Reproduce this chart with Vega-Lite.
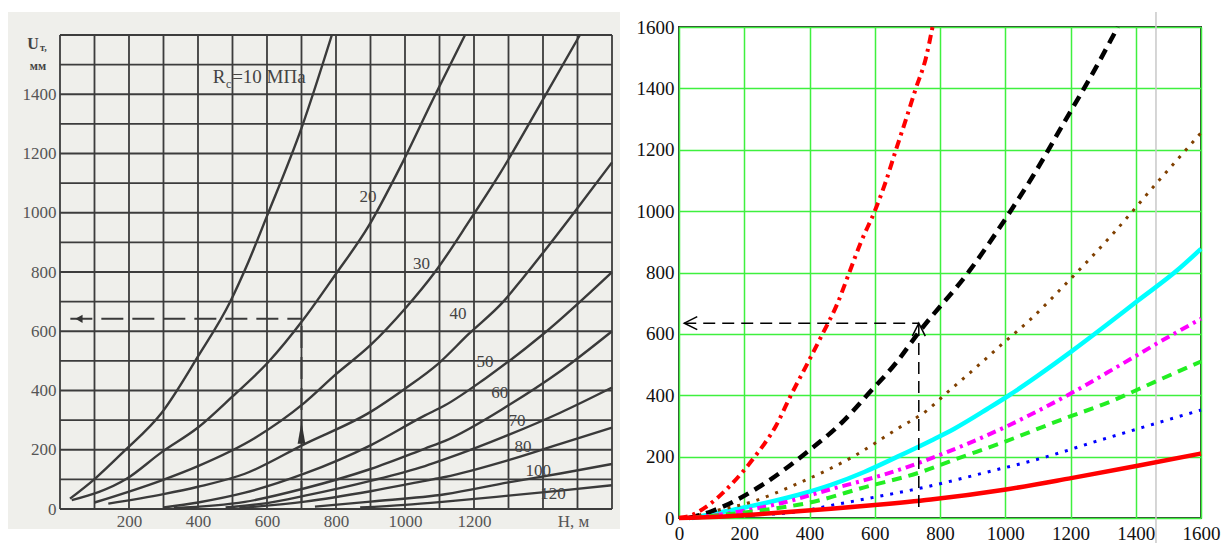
{
  "$schema": "https://vega.github.io/schema/vega-lite/v6.json",
  "padding": {"left": 8, "top": 10, "right": 0, "bottom": 0},
  "spacing": 15,
  "background": "white",
  "config": {"view": {"stroke": null}, "font": "Liberation Serif"},
  "datasets": {
    "lg": [{"v":0},{"v":100},{"v":200},{"v":300},{"v":400},{"v":500},{"v":600},{"v":700},{"v":800},{"v":900},{"v":1000},{"v":1100},{"v":1200},{"v":1300},{"v":1400},{"v":1500},{"v":1600}],
    "lc": [
      {"r":10,"H":29,"U":35},{"r":10,"H":101,"U":102},{"r":10,"H":183,"U":192},{"r":10,"H":295,"U":325},{"r":10,"H":400,"U":515},{"r":10,"H":493,"U":699},{"r":10,"H":546,"U":834},{"r":10,"H":599,"U":986},{"r":10,"H":701,"U":1289},{"r":10,"H":788,"U":1600},
      {"r":20,"H":34,"U":30},{"r":20,"H":193,"U":102},{"r":20,"H":295,"U":192},{"r":20,"H":400,"U":275},{"r":20,"H":500,"U":380},{"r":20,"H":604,"U":496},{"r":20,"H":707,"U":642},{"r":20,"H":797,"U":789},{"r":20,"H":893,"U":952},{"r":20,"H":986,"U":1154},{"r":20,"H":1082,"U":1385},{"r":20,"H":1174,"U":1600},
      {"r":30,"H":100,"U":22},{"r":30,"H":295,"U":97},{"r":30,"H":400,"U":145},{"r":30,"H":565,"U":240},{"r":30,"H":710,"U":360},{"r":30,"H":800,"U":455},{"r":30,"H":899,"U":552},{"r":30,"H":1000,"U":676},{"r":30,"H":1087,"U":800},{"r":30,"H":1188,"U":975},{"r":30,"H":1275,"U":1132},{"r":30,"H":1391,"U":1364},{"r":30,"H":1507,"U":1600},
      {"r":40,"H":140,"U":18},{"r":40,"H":300,"U":50},{"r":40,"H":400,"U":75},{"r":40,"H":536,"U":119},{"r":40,"H":710,"U":220},{"r":40,"H":899,"U":327},{"r":40,"H":1000,"U":406},{"r":40,"H":1096,"U":490},{"r":40,"H":1184,"U":590},{"r":40,"H":1285,"U":700},{"r":40,"H":1342,"U":780},{"r":40,"H":1487,"U":996},{"r":40,"H":1600,"U":1170},
      {"r":50,"H":300,"U":5},{"r":50,"H":400,"U":22},{"r":50,"H":536,"U":55},{"r":50,"H":710,"U":120},{"r":50,"H":900,"U":215},{"r":50,"H":1058,"U":316},{"r":50,"H":1116,"U":350},{"r":50,"H":1232,"U":440},{"r":50,"H":1400,"U":590},{"r":50,"H":1600,"U":800},
      {"r":60,"H":330,"U":3},{"r":60,"H":536,"U":24},{"r":60,"H":710,"U":70},{"r":60,"H":900,"U":135},{"r":60,"H":1058,"U":204},{"r":60,"H":1116,"U":230},{"r":60,"H":1300,"U":350},{"r":60,"H":1450,"U":465},{"r":60,"H":1600,"U":600},
      {"r":70,"H":480,"U":5},{"r":70,"H":600,"U":20},{"r":70,"H":710,"U":45},{"r":70,"H":900,"U":95},{"r":70,"H":1058,"U":145},{"r":70,"H":1116,"U":168},{"r":70,"H":1300,"U":250},{"r":70,"H":1450,"U":325},{"r":70,"H":1600,"U":410},
      {"r":80,"H":520,"U":3},{"r":80,"H":710,"U":25},{"r":80,"H":900,"U":60},{"r":80,"H":1058,"U":95},{"r":80,"H":1116,"U":108},{"r":80,"H":1300,"U":165},{"r":80,"H":1450,"U":220},{"r":80,"H":1600,"U":275},
      {"r":100,"H":739,"U":8},{"r":100,"H":900,"U":25},{"r":100,"H":1116,"U":50},{"r":100,"H":1300,"U":90},{"r":100,"H":1450,"U":120},{"r":100,"H":1600,"U":152},
      {"r":120,"H":870,"U":5},{"r":120,"H":1000,"U":14},{"r":120,"H":1116,"U":25},{"r":120,"H":1300,"U":45},{"r":120,"H":1450,"U":62},{"r":120,"H":1600,"U":80}
    ],
    "ll": [{"t":"20","H":893,"U":1053},{"t":"30","H":1048,"U":828},{"t":"40","H":1154,"U":658},{"t":"50","H":1232,"U":496},{"t":"60","H":1275,"U":393},{"t":"70","H":1325,"U":297},{"t":"80","H":1342,"U":209},{"t":"100","H":1386,"U":128},{"t":"120","H":1429,"U":50}],
    "rc": [
      {"s":"cy","H":40,"U":0},{"s":"cy","H":159,"U":25},{"s":"cy","H":261,"U":48},{"s":"cy","H":364,"U":75},{"s":"cy","H":466,"U":108},{"s":"cy","H":568,"U":150},{"s":"cy","H":670,"U":200},{"s":"cy","H":772,"U":252},{"s":"cy","H":844,"U":291},{"s":"cy","H":946,"U":356},{"s":"cy","H":1012,"U":400},{"s":"cy","H":1099,"U":463},{"s":"cy","H":1202,"U":542},{"s":"cy","H":1314,"U":632},{"s":"cy","H":1406,"U":708},{"s":"cy","H":1528,"U":808},{"s":"cy","H":1600,"U":877},
      {"s":"br","H":30,"U":0},{"s":"br","H":98,"U":20},{"s":"br","H":221,"U":52},{"s":"br","H":374,"U":117},{"s":"br","H":532,"U":199},{"s":"br","H":670,"U":291},{"s":"br","H":762,"U":352},{"s":"br","H":818,"U":405},{"s":"br","H":895,"U":476},{"s":"br","H":992,"U":568},{"s":"br","H":1079,"U":649},{"s":"br","H":1181,"U":758},{"s":"br","H":1335,"U":932},{"s":"br","H":1467,"U":1095},{"s":"br","H":1600,"U":1255},
      {"s":"bk","H":30,"U":0},{"s":"bk","H":100,"U":22},{"s":"bk","H":251,"U":105},{"s":"bk","H":389,"U":212},{"s":"bk","H":506,"U":318},{"s":"bk","H":583,"U":408},{"s":"bk","H":665,"U":505},{"s":"bk","H":735,"U":605},{"s":"bk","H":890,"U":805},{"s":"bk","H":1018,"U":1003},{"s":"bk","H":1083,"U":1111},{"s":"bk","H":1181,"U":1290},{"s":"bk","H":1279,"U":1470},{"s":"bk","H":1345,"U":1600},
      {"s":"mg","H":40,"U":0},{"s":"mg","H":150,"U":15},{"s":"mg","H":300,"U":45},{"s":"mg","H":487,"U":100},{"s":"mg","H":558,"U":120},{"s":"mg","H":660,"U":152},{"s":"mg","H":793,"U":203},{"s":"mg","H":1007,"U":300},{"s":"mg","H":1191,"U":400},{"s":"mg","H":1355,"U":500},{"s":"mg","H":1500,"U":590},{"s":"mg","H":1600,"U":649},
      {"s":"gr","H":40,"U":0},{"s":"gr","H":150,"U":12},{"s":"gr","H":300,"U":32},{"s":"gr","H":400,"U":50},{"s":"gr","H":568,"U":100},{"s":"gr","H":742,"U":150},{"s":"gr","H":844,"U":190},{"s":"gr","H":997,"U":248},{"s":"gr","H":1171,"U":320},{"s":"gr","H":1324,"U":380},{"s":"gr","H":1457,"U":443},{"s":"gr","H":1600,"U":510},
      {"s":"bl","H":40,"U":0},{"s":"bl","H":200,"U":8},{"s":"bl","H":374,"U":22},{"s":"bl","H":466,"U":41},{"s":"bl","H":600,"U":68},{"s":"bl","H":752,"U":100},{"s":"bl","H":946,"U":150},{"s":"bl","H":1125,"U":199},{"s":"bl","H":1273,"U":248},{"s":"bl","H":1426,"U":297},{"s":"bl","H":1600,"U":352},
      {"s":"rd","H":0,"U":0},{"s":"rd","H":40,"U":10},{"s":"rd","H":88,"U":40},{"s":"rd","H":149,"U":97},{"s":"rd","H":236,"U":205},{"s":"rd","H":297,"U":300},{"s":"rd","H":343,"U":400},{"s":"rd","H":392,"U":500},{"s":"rd","H":440,"U":600},{"s":"rd","H":486,"U":700},{"s":"rd","H":522,"U":800},{"s":"rd","H":558,"U":900},{"s":"rd","H":600,"U":1000},{"s":"rd","H":635,"U":1100},{"s":"rd","H":665,"U":1200},{"s":"rd","H":696,"U":1300},{"s":"rd","H":726,"U":1400},{"s":"rd","H":757,"U":1500},{"s":"rd","H":777,"U":1600},
      {"s":"rs","H":0,"U":0},{"s":"rs","H":100,"U":3},{"s":"rs","H":262,"U":14},{"s":"rs","H":466,"U":30},{"s":"rs","H":600,"U":42},{"s":"rs","H":772,"U":60},{"s":"rs","H":997,"U":92},{"s":"rs","H":1202,"U":130},{"s":"rs","H":1406,"U":170},{"s":"rs","H":1600,"U":210}
    ]
  },
  "hconcat": [
    {
      "width": 612,
      "height": 502,
      "view": {"fill": "#efefeb", "stroke": null},
      "layer": [
        {
          "data": {"values": [{}]},
          "mark": {"type": "rect", "fill": "#efefeb"},
          "encoding": {
            "x": {"datum": -150.7, "type": "quantitative",
                  "scale": {"domain": [-150.7, 1623.2], "nice": false, "zero": false},
                  "axis": {"values": [0, 200, 400, 600, 800, 1000, 1200, 1487], "labelExpr": "datum.value > 1400 ? 'H, м' : datum.value == 0 ? '' : datum.label", "format": "d", "offset": -20, "domain": false, "ticks": false, "grid": false, "labelFont": "Liberation Serif", "labelFontSize": 17, "labelColor": "#555", "labelPadding": 4, "labelOverlap": false, "labelBound": false, "labelFlush": false, "title": null}},
            "x2": {"datum": 1623.2},
            "y": {"datum": 1627, "type": "quantitative",
                  "scale": {"domain": [-67.5, 1627], "nice": false, "zero": false},
                  "axis": {"values": [0, 200, 400, 600, 800, 1000, 1200, 1400], "format": "d", "offset": -52, "domain": false, "ticks": false, "grid": false, "labelFont": "Liberation Serif", "labelFontSize": 17, "labelColor": "#555", "labelPadding": 4, "labelOverlap": false, "labelBound": false, "labelFlush": false, "title": null}},
            "y2": {"datum": 1678}
          }
        },
        {
          "data": {"name": "lg"},
          "mark": {"type": "rule", "stroke": "#3c3c3c", "strokeWidth": 1.8},
          "encoding": {
            "x": {"field": "v", "type": "quantitative", "title": null},
            "y": {"datum": 0, "type": "quantitative"},
            "y2": {"datum": 1600}
          }
        },
        {
          "data": {"name": "lg"},
          "mark": {"type": "rule", "stroke": "#3c3c3c", "strokeWidth": 1.8},
          "encoding": {
            "y": {"field": "v", "type": "quantitative", "title": null},
            "x": {"datum": 0, "type": "quantitative"},
            "x2": {"datum": 1600}
          }
        },
        {
          "data": {"name": "lc"},
          "mark": {"type": "line", "stroke": "#3a3a3a", "strokeWidth": 2.4, "interpolate": "monotone"},
          "encoding": {
            "x": {"field": "H", "type": "quantitative", "title": null},
            "y": {"field": "U", "type": "quantitative", "title": null},
            "detail": {"field": "r"}
          }
        },
        {
          "data": {"values": [{}]},
          "mark": {"type": "rule", "stroke": "#3a3a3a", "strokeWidth": 2, "strokeDash": [22, 9]},
          "encoding": {"x": {"datum": 30}, "x2": {"datum": 700}, "y": {"datum": 642}}
        },
        {
          "data": {"values": [{}]},
          "mark": {"type": "rule", "stroke": "#3a3a3a", "strokeWidth": 2, "strokeDash": [22, 9]},
          "encoding": {"x": {"datum": 700}, "y": {"datum": 20}, "y2": {"datum": 642}}
        },
        {
          "data": {"values": [{}]},
          "mark": {"type": "point", "shape": "triangle-left", "filled": true, "color": "#333", "size": 70, "opacity": 1},
          "encoding": {"x": {"datum": 55}, "y": {"datum": 642}}
        },
        {
          "data": {"values": [{}]},
          "mark": {"type": "point", "shape": "M 0 -1 L 0.35 1 L -0.35 1 Z", "filled": true, "color": "#333", "size": 484, "opacity": 1},
          "encoding": {"x": {"datum": 700}, "y": {"datum": 257}}
        },
        {
          "data": {"name": "ll"},
          "mark": {"type": "text", "font": "Liberation Serif", "fontSize": 17, "color": "#444", "baseline": "middle"},
          "encoding": {
            "x": {"field": "H", "type": "quantitative", "title": null},
            "y": {"field": "U", "type": "quantitative", "title": null},
            "text": {"field": "t"}
          }
        },
        {
          "data": {"values": [{}]},
          "mark": {"type": "text", "text": "R", "font": "Liberation Serif", "fontSize": 19, "color": "#444", "align": "left", "baseline": "middle"},
          "encoding": {"x": {"datum": 443}, "y": {"datum": 1458}}
        },
        {
          "data": {"values": [{}]},
          "mark": {"type": "text", "text": "c", "font": "Liberation Serif", "fontSize": 12, "color": "#444", "align": "left", "baseline": "middle"},
          "encoding": {"x": {"datum": 481}, "y": {"datum": 1436}}
        },
        {
          "data": {"values": [{}]},
          "mark": {"type": "text", "text": "=10 МПа", "font": "Liberation Serif", "fontSize": 19, "color": "#444", "align": "left", "baseline": "middle"},
          "encoding": {"x": {"datum": 499}, "y": {"datum": 1458}}
        },
        {
          "data": {"values": [{}]},
          "mark": {"type": "text", "text": "U", "font": "Liberation Serif", "fontSize": 16, "fontWeight": "bold", "color": "#444", "baseline": "middle"},
          "encoding": {"x": {"datum": -78}, "y": {"datum": 1570}}
        },
        {
          "data": {"values": [{}]},
          "mark": {"type": "text", "text": "т,", "font": "Liberation Serif", "fontSize": 10, "fontWeight": "bold", "color": "#444", "baseline": "middle"},
          "encoding": {"x": {"datum": -48}, "y": {"datum": 1555}}
        },
        {
          "data": {"values": [{}]},
          "mark": {"type": "text", "text": "мм", "font": "Liberation Serif", "fontSize": 12, "fontWeight": "bold", "color": "#444", "baseline": "middle"},
          "encoding": {"x": {"datum": -64}, "y": {"datum": 1495}}
        }
      ]
    },
    {
      "width": 522,
      "height": 491,
      "view": {"stroke": "#333", "strokeWidth": 2},
      "layer": [
        {
          "data": {"values": [{}]},
          "mark": {"type": "rule", "stroke": "#c8c8c8", "strokeWidth": 1.5},
          "encoding": {
            "x": {"datum": 1462, "type": "quantitative",
                  "scale": {"domain": [0, 1600], "nice": false, "zero": false},
                  "axis": {"values": [0, 200, 400, 600, 800, 1000, 1200, 1400, 1600], "format": "d", "grid": true, "gridColor": "#3ef03e", "gridWidth": 1.5, "gridOpacity": 1, "domain": false, "ticks": false, "labelFont": "Liberation Serif", "labelFontSize": 19, "labelColor": "#111", "labelPadding": 6, "labelOverlap": false, "labelBound": false, "labelFlush": false, "title": null}},
            "y": {"datum": -88, "type": "quantitative",
                  "scale": {"domain": [0, 1600], "nice": false, "zero": false},
                  "axis": {"values": [0, 100, 200, 300, 400, 500, 600, 700, 800, 900, 1000, 1100, 1200, 1300, 1400, 1500, 1600], "format": "d", "grid": true, "gridColor": "#3ef03e", "gridWidth": 1.5, "gridOpacity": 1, "domain": false, "ticks": false, "labelFont": "Liberation Serif", "labelFontSize": 19, "labelColor": "#111", "labelPadding": 5, "labelOverlap": false, "labelBound": false, "labelFlush": false, "title": null}},
            "y2": {"datum": 1649}
          }
        },
        {
          "data": {"name": "rc"},
          "transform": [{"filter": "datum.s == 'cy'"}],
          "mark": {"type": "line", "stroke": "#00ffff", "strokeWidth": 4.5, "interpolate": "monotone"},
          "encoding": {"x": {"field": "H", "type": "quantitative", "title": null}, "y": {"field": "U", "type": "quantitative", "title": null}}
        },
        {
          "data": {"name": "rc"},
          "transform": [{"filter": "datum.s == 'br'"}],
          "mark": {"type": "line", "stroke": "#804000", "strokeWidth": 3, "strokeDash": [3, 7], "interpolate": "monotone"},
          "encoding": {"x": {"field": "H", "type": "quantitative", "title": null}, "y": {"field": "U", "type": "quantitative", "title": null}}
        },
        {
          "data": {"name": "rc"},
          "transform": [{"filter": "datum.s == 'bk'"}],
          "mark": {"type": "line", "stroke": "#000000", "strokeWidth": 4.5, "strokeDash": [11, 7], "interpolate": "monotone"},
          "encoding": {"x": {"field": "H", "type": "quantitative", "title": null}, "y": {"field": "U", "type": "quantitative", "title": null}}
        },
        {
          "data": {"name": "rc"},
          "transform": [{"filter": "datum.s == 'mg'"}],
          "mark": {"type": "line", "stroke": "#ff00ff", "strokeWidth": 4, "strokeDash": [9, 5, 3, 5], "interpolate": "monotone"},
          "encoding": {"x": {"field": "H", "type": "quantitative", "title": null}, "y": {"field": "U", "type": "quantitative", "title": null}}
        },
        {
          "data": {"name": "rc"},
          "transform": [{"filter": "datum.s == 'gr'"}],
          "mark": {"type": "line", "stroke": "#22ee22", "strokeWidth": 4, "strokeDash": [10, 7], "interpolate": "monotone"},
          "encoding": {"x": {"field": "H", "type": "quantitative", "title": null}, "y": {"field": "U", "type": "quantitative", "title": null}}
        },
        {
          "data": {"name": "rc"},
          "transform": [{"filter": "datum.s == 'bl'"}],
          "mark": {"type": "line", "stroke": "#0000ff", "strokeWidth": 3, "strokeDash": [3, 7], "interpolate": "monotone"},
          "encoding": {"x": {"field": "H", "type": "quantitative", "title": null}, "y": {"field": "U", "type": "quantitative", "title": null}}
        },
        {
          "data": {"name": "rc"},
          "transform": [{"filter": "datum.s == 'rd'"}],
          "mark": {"type": "line", "stroke": "#ff0000", "strokeWidth": 4, "strokeDash": [9, 5, 3, 5], "interpolate": "monotone"},
          "encoding": {"x": {"field": "H", "type": "quantitative", "title": null}, "y": {"field": "U", "type": "quantitative", "title": null}}
        },
        {
          "data": {"name": "rc"},
          "transform": [{"filter": "datum.s == 'rs'"}],
          "mark": {"type": "line", "stroke": "#ff0000", "strokeWidth": 4.5, "interpolate": "monotone"},
          "encoding": {"x": {"field": "H", "type": "quantitative", "title": null}, "y": {"field": "U", "type": "quantitative", "title": null}}
        },
        {
          "data": {"values": [{}]},
          "mark": {"type": "rule", "stroke": "#000", "strokeWidth": 1.5, "strokeDash": [12, 7]},
          "encoding": {"x": {"datum": 16}, "x2": {"datum": 735}, "y": {"datum": 635}}
        },
        {
          "data": {"values": [{}]},
          "mark": {"type": "rule", "stroke": "#000", "strokeWidth": 1.5, "strokeDash": [12, 7]},
          "encoding": {"x": {"datum": 735}, "y": {"datum": 36}, "y2": {"datum": 635}}
        },
        {
          "data": {"values": [{}]},
          "mark": {"type": "point", "shape": "M 1 -1 L -1 0 L 1 1", "filled": false, "stroke": "#000", "strokeWidth": 1.5, "size": 169, "opacity": 1},
          "encoding": {"x": {"datum": 36}, "y": {"datum": 635}}
        },
        {
          "data": {"values": [{}]},
          "mark": {"type": "point", "shape": "M -1 1 L 0 -1 L 1 1", "filled": false, "stroke": "#000", "strokeWidth": 1.5, "size": 169, "opacity": 1},
          "encoding": {"x": {"datum": 735}, "y": {"datum": 614}}
        }
      ]
    }
  ]
}
